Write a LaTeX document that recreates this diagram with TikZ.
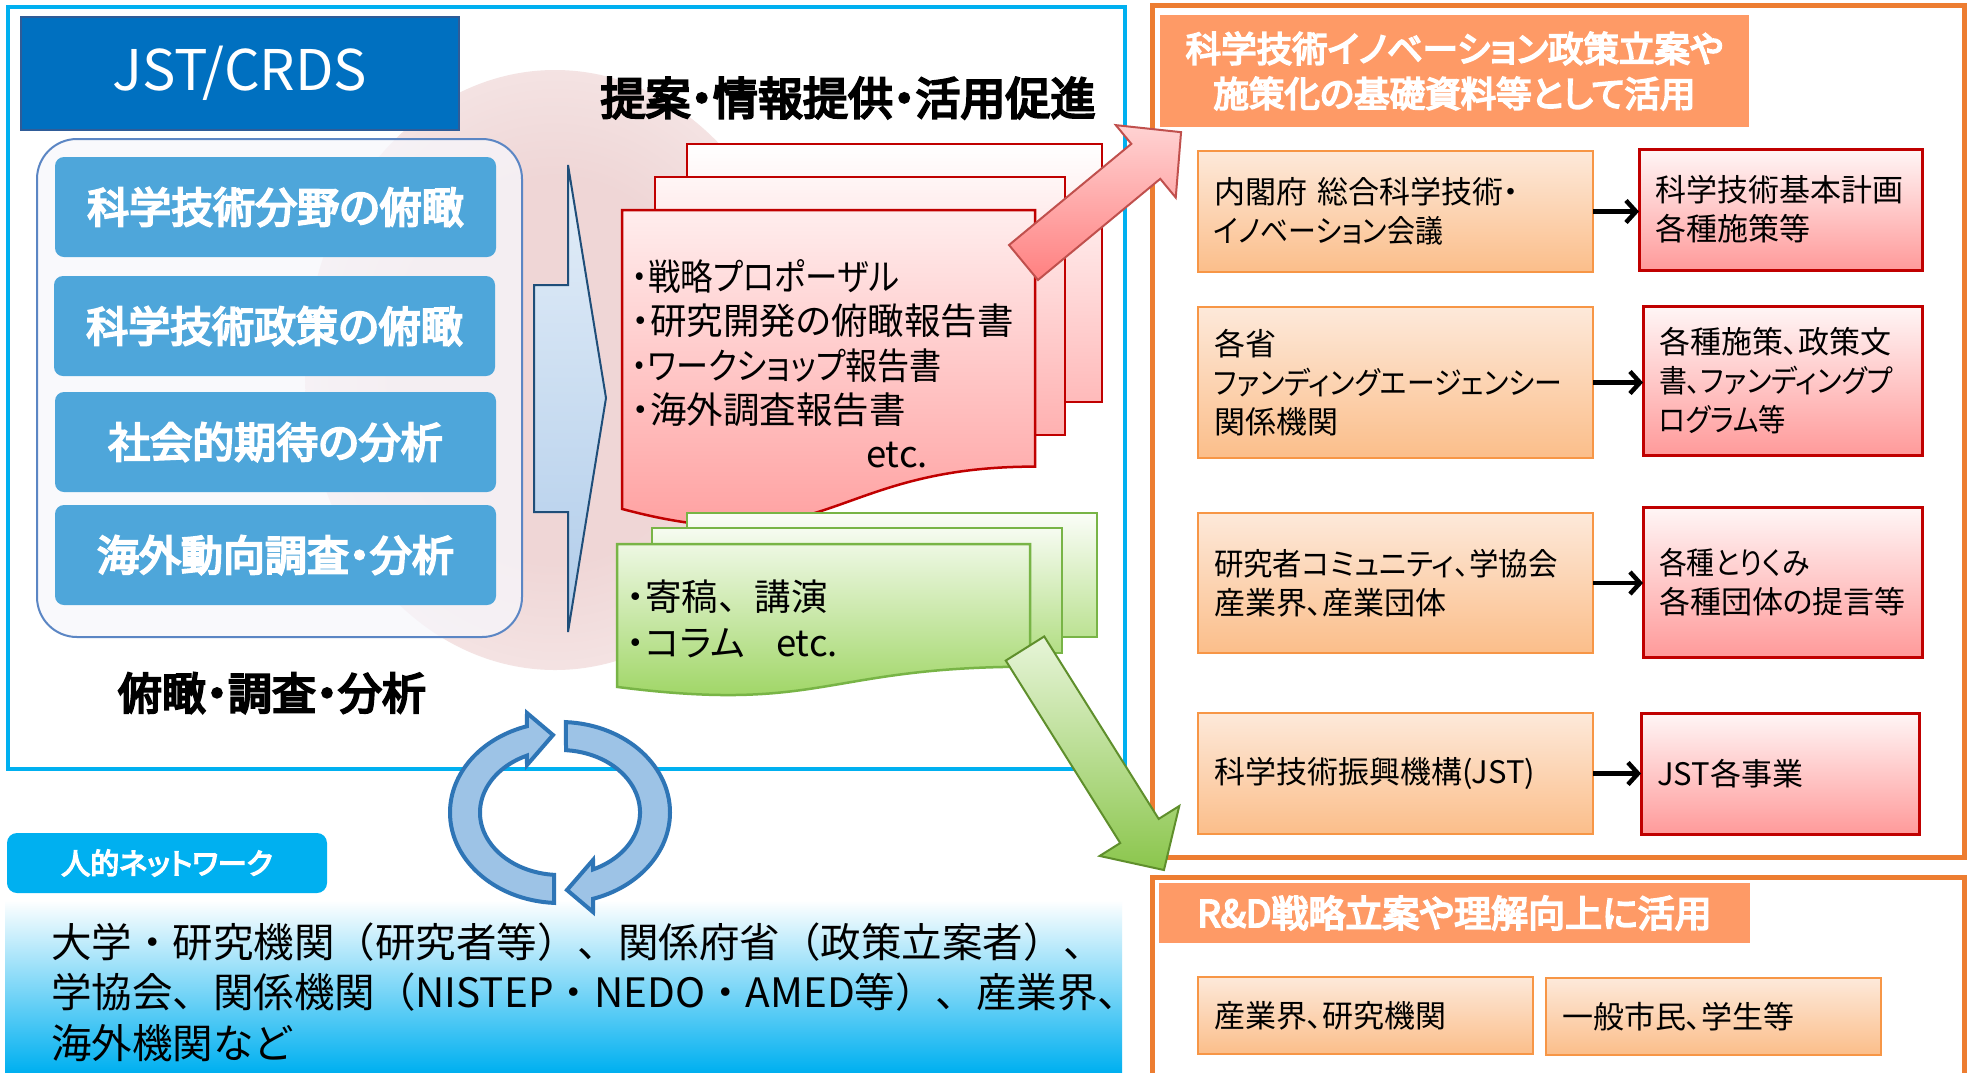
\documentclass[tikz,border=0pt]{standalone}
\usepackage{fontspec}
\usepackage{graphicx}
\setmainfont{Noto Sans CJK JP}[RawFeature={+palt}]
\newfontfamily\jpf{Noto Sans CJK JP}
\newfontfamily\jpb{Noto Sans CJK JP}[RawFeature={+palt},FakeBold=5]
\newcommand{\hsq}[2]{\scalebox{#1}[1]{#2}}
\usetikzlibrary{arrows.meta}
\definecolor{frameblue}{HTML}{00B0F0}
\definecolor{jstblue}{HTML}{0070C0}
\definecolor{jstedge}{HTML}{2F5C98}
\definecolor{boxblue}{HTML}{4EA6DA}
\definecolor{contedge}{HTML}{5B86C4}
\definecolor{contfill}{HTML}{F7F7FC}
\definecolor{glowc}{HTML}{EFD6D6}
\definecolor{chevtop}{HTML}{E4EEF8}
\definecolor{chevbot}{HTML}{B0CCEA}
\definecolor{chevedge}{HTML}{1F4E79}
\definecolor{docred}{HTML}{FF9898}
\definecolor{redline}{HTML}{C00000}
\definecolor{greenb}{HTML}{92D050}
\definecolor{greenline}{HTML}{78B446}
\definecolor{arrgreenedge}{HTML}{5F8F2C}
\definecolor{arrrededge}{HTML}{C0504D}
\definecolor{arrredtop}{HTML}{FFD3D3}
\definecolor{arrredbot}{HTML}{FF8080}
\definecolor{orangeline}{HTML}{ED7D31}
\definecolor{headfill}{HTML}{FE9A66}
\definecolor{oboxtop}{HTML}{FDE9DA}
\definecolor{oboxbot}{HTML}{FBBE8A}
\definecolor{oboxedge}{HTML}{F79646}
\definecolor{rboxtop}{HTML}{FFF6F6}
\definecolor{rboxbot}{HTML}{FF9A9A}
\definecolor{cycfill}{HTML}{9DC3E6}
\definecolor{cycedge}{HTML}{2E75B6}
\definecolor{barmid}{HTML}{A6E2F8}
\pgfdeclareradialshading{glowshade}{\pgfpointorigin}{color(0bp)=(glowc); color(16bp)=(glowc); color(32bp)=(glowc!45!white); color(50bp)=(white)}
\begin{document}
\begin{tikzpicture}[x=1pt,y=-1pt,
  every node/.style={inner sep=0pt, outer sep=0pt},
  bluebox/.style={fill=boxblue, rounded corners=9pt, minimum width=441pt, minimum height=100pt, anchor=north west, text=white, font=\jpb\fontsize{42}{50}\selectfont},
  obox/.style={draw=oboxedge, line width=2.5pt, top color=oboxtop, bottom color=oboxbot, anchor=north west, align=left, inner xsep=16pt, font=\fontsize{31}{39}\selectfont},
  rbox/.style={draw=redline, line width=3pt, top color=rboxtop, bottom color=rboxbot, anchor=north west, align=left, inner xsep=16pt, font=\fontsize{31}{39}\selectfont},
  header/.style={fill=headfill, anchor=north west, align=center, text=white, font=\jpb\fontsize{35.5}{45}\selectfont},
  oframe/.style={draw=orangeline, line width=5pt},
  blkarrow/.style={-{Straight Barb[length=10pt,width=22pt]}, line width=4.5pt, black},
  doctext/.style={anchor=west, align=left, font=\fontsize{36.5}{44.3}\selectfont},
  cyc/.style={fill=cycfill, draw=cycedge, line width=4pt, line join=miter},
  bigarrow/.style={line width=2pt, line join=miter}
]
\useasboundingbox (0,0) rectangle (1970,1072);
\fill[white] (0,0) rectangle (1970,1072);

% soft glow
\shade[shading=glowshade] (555,370) ellipse [x radius=250, y radius=300];

% bottom gradient band
\shade[top color=white, middle color=barmid, bottom color=frameblue] (5,900) rectangle (1122,1072);

% frames
\draw[frameblue, line width=4.5pt] (8,7) rectangle (1125,769);
\draw[oframe] (1152,5) rectangle (1964,857);
\draw[oframe] (1152,877) rectangle (1964,1085);

% headers
\node[header, minimum width=589pt, minimum height=112pt] (h1) at (1160,15) {科学技術イノベーション政策立案や\\施策化の基礎資料等として活用};
\node[header, minimum width=591pt, minimum height=60pt, font=\jpb\fontsize{37}{45}\selectfont] (h2) at (1159,883) {R\&D戦略立案や理解向上に活用};

% right boxes
\node[obox, minimum width=395pt, minimum height=121pt, text width=363pt] (a1) at (1198,151) {内閣府 総合科学技術・\\\hsq{0.9}{イノベーション会議}};
\node[obox, minimum width=395pt, minimum height=151pt, text width=363pt] (a2) at (1198,307) {各省\\\hsq{0.9}{ファンディングエージェンシー}\\関係機関};
\node[obox, minimum width=395pt, minimum height=140pt, text width=363pt] (a3) at (1198,513) {\hsq{0.95}{研究者コミュニティ、学協会}\\産業界、産業団体};
\node[obox, minimum width=395pt, minimum height=121pt, text width=363pt] (a4) at (1198,713) {科学技術振興機構(JST)};
\node[rbox, minimum width=283pt, minimum height=121pt, text width=251pt] (b1) at (1639,149) {科学技術基本計画\\各種施策等};
\node[rbox, minimum width=279pt, minimum height=149pt, text width=247pt] (b2) at (1643,306) {各種施策、政策文\\\hsq{0.9}{書、ファンディングプ}\\\hsq{0.88}{ログラム等}};
\node[rbox, minimum width=279pt, minimum height=150pt, text width=247pt] (b3) at (1643,507) {\hsq{0.9}{各種とりくみ}\\各種団体の提言等};
\node[rbox, minimum width=278pt, minimum height=121pt, text width=246pt] (b4) at (1641,713) {JST各事業};
\node[obox, minimum width=335pt, minimum height=77pt, text width=303pt] (c1) at (1198,977) {産業界、研究機関};
\node[obox, minimum width=335pt, minimum height=77pt, text width=303pt] (c2) at (1546,978) {一般市民、学生等};

\draw[blkarrow] (a1.east) -- (a1.east -| b1.west);
\draw[blkarrow] (a2.east) -- (a2.east -| b2.west);
\draw[blkarrow] (a3.east) -- (a3.east -| b3.west);
\draw[blkarrow] (a4.east) -- (a4.east -| b4.west);

% left panel
\node[draw=contedge, line width=2pt, fill=contfill, fill opacity=0.75, rounded corners=40pt, minimum width=485pt, minimum height=498pt, anchor=north west] (cont) at (37,139) {};
\node[fill=jstblue, draw=jstedge, line width=1.5pt, minimum width=438pt, minimum height=113pt, anchor=north west, text=white, font=\fontsize{56}{60}\selectfont] (jst) at (21,17) {JST/CRDS};
\node[bluebox] (bx1) at (55,157) {科学技術分野の俯瞰};
\node[bluebox] (bx2) at (54,276) {科学技術政策の俯瞰};
\node[bluebox] (bx3) at (55,392) {社会的期待の分析};
\node[bluebox] (bx4) at (55,505) {海外動向調査・分析};
\node[font=\jpb\fontsize{44}{50}\selectfont] (anal) at (272,693) {俯瞰・調査・分析};

% chevron arrow
\shadedraw[top color=chevtop, bottom color=chevbot, draw=chevedge, line width=2pt, line join=miter]
  (568,165) -- (606,398) -- (568,632) -- (568,512) -- (534,512) -- (534,285) -- (568,285) -- cycle;

\node[font=\jpb\fontsize{45}{50}\selectfont] (prop) at (848,98) {提案・情報提供・活用促進};

% red document stack
\shadedraw[top color=white, bottom color=docred!67!white, draw=redline, line width=2.5pt] (687,144) rectangle (1102,402);
\shadedraw[top color=docred!9!white, bottom color=docred!76!white, draw=redline, line width=2.5pt] (655,177) rectangle (1065,435);
\shadedraw[top color=docred!17!white, bottom color=docred, draw=redline, line width=2.5pt]
  (622,210) -- (1035,210) -- (1035,466.6) .. controls (828.5,466.6) and (828.5,564.4) .. (622,508.9) -- cycle;
\node[doctext] (rdtext) at (632,364) {\hsq{0.89}{・戦略プロポーザル}\\・研究開発の俯瞰報告書\\\hsq{0.88}{・ワークショップ報告書}\\・海外調査報告書\\\hspace*{234pt}etc.};

% green document stack
\shadedraw[top color=greenb!4!white, bottom color=greenb!62!white, draw=greenline, line width=2.5pt] (687,513) rectangle (1097,637);
\shadedraw[top color=greenb!8!white, bottom color=greenb!70!white, draw=greenline, line width=2.5pt] (652,528) rectangle (1062,653);
\shadedraw[top color=greenb!16!white, bottom color=greenb!95!white, draw=greenline, line width=2.5pt]
  (617,544) -- (1030,544) -- (1030,666.7) .. controls (823.5,666.7) and (823.5,713.4) .. (617,686.9) -- cycle;
\node[doctext, font=\fontsize{36.5}{46}\selectfont] (gdtext) at (627,619) {・寄稿{\jpf 、}講演\\\makebox[149pt][l]{・コラム}etc.};

% big arrows (local frame: x along the arrow)
\begin{scope}[shift={(1023.5,262.5)}, rotate=39.6]
  \shadedraw[bigarrow, top color=arrredtop, bottom color=arrredbot, draw=arrrededge]
    (0,-22.7) -- (158.7,-22.7) -- (158.7,-47) -- (204.5,0) -- (158.7,47) -- (158.7,22.7) -- (0,22.7) -- cycle;
\end{scope}
\begin{scope}[shift={(1025,648.5)}, rotate=-57.9]
  \shadedraw[bigarrow, top color=greenb!22!white, bottom color=greenb!95!black, draw=arrgreenedge]
    (0,-22.7) -- (215.4,-22.7) -- (215.4,-47) -- (261.5,0) -- (215.4,47) -- (215.4,22.7) -- (0,22.7) -- cycle;
\end{scope}

% cycle arrows
\filldraw[cyc] (554.05,902.9) arc[start angle=93.1, end angle=252.5, x radius=110, y radius=90.5]
  -- (527,713) -- (553,735) -- (527,765) -- (526.95,755.6)
  arc[start angle=245.6, end angle=94.3, x radius=80, y radius=62.5] -- cycle;
\filldraw[cyc] (565.95,722.1) arc[start angle=273.1, end angle=432.5, x radius=110, y radius=90.5]
  -- (593,912) -- (567,890) -- (593,860) -- (593.05,869.4)
  arc[start angle=425.6, end angle=274.3, x radius=80, y radius=62.5] -- cycle;

% network
\node[fill=frameblue, rounded corners=10pt, minimum width=320pt, minimum height=60pt, anchor=north west, text=white, font=\jpb\fontsize{29}{32}\selectfont] (net) at (7,833) {人的ネットワーク};
\node[anchor=west, align=left, font=\jpf\fontsize{40.5}{50.5}\selectfont] (nettext) at (51,992) {大学・研究機関（研究者等）、関係府省（政策立案者）、\\学協会、関係機関（NISTEP・NEDO・AMED等）、産業界、\\海外機関など};
\end{tikzpicture}
\end{document}
